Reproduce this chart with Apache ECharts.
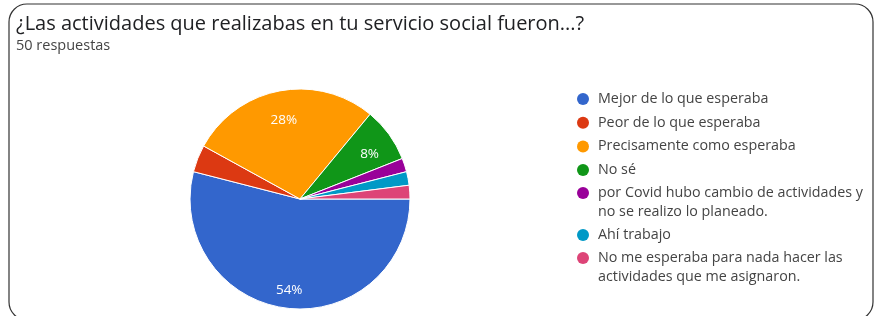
<!DOCTYPE html>
<html>
<head>
<meta charset="utf-8">
<script src="https://cdn.jsdelivr.net/npm/echarts@6/dist/echarts.min.js"></script>
<style>
html, body { margin: 0; padding: 0; background: #fff; }
#chart { width: 875px; height: 316px; }
</style>
</head>
<body>
<div id="chart"></div>
<script>
// respuestas por opcion (50 en total)
var categorias = [
	"Mejor de lo que esperaba",
	"Peor de lo que esperaba",
	"Precisamente como esperaba",
	"No sé",
	"por Covid hubo cambio de actividades y no se realizo lo planeado.",
	"Ahí trabajo",
	"No me esperaba para nada hacer las actividades que me asignaron."
];
var respuestas = [27, 2, 14, 4, 1, 1, 1];
var colores = ["#3366cc", "#dc3912", "#ff9900", "#109618", "#990099", "#0099c6", "#dd4477"];

var titulo = "¿Las actividades que realizabas en tu servicio social fueron...?";
var subtitulo = "50 respuestas";

var data = [];
for (var i = 0; i < categorias.length; i++) {
	data.push({ name: categorias[i], value: respuestas[i] });
}

var fontFamily = "'Open Sans', Arial, sans-serif";
var centro = [300, 199];
// circulo arriba de una caja alta, para que el icono quede con la primera linea
var iconoAlto = "path://M6,0A6,6,0,1,1,6,12A6,6,0,1,1,6,0Z M6,31L6,31";

var legendText = {
	fontFamily: fontFamily,
	fontSize: 14.3,
	color: "#444",
	lineHeight: 19,
	width: 275,
	overflow: "break",
	padding: [0, 0, 0, 4]
};

function makeLegend(nombres, top, dosLineas) {
	return {
		orient: "vertical",
		left: 577,
		top: top,
		padding: 0,
		icon: dosLineas ? iconoAlto : "circle",
		itemWidth: 12,
		itemHeight: dosLineas ? 31 : 12,
		itemGap: 4.7,
		itemStyle: { borderWidth: 0 },
		selectedMode: false,
		data: nombres,
		textStyle: legendText
	};
}

var myChart = echarts.init(document.getElementById("chart"));
var option = {
	color: colores,
	animation: false,
	title: {
		text: titulo,
		subtext: subtitulo,
		left: 11,
		top: 9,
		itemGap: 4,
		textStyle: { fontFamily: fontFamily, fontSize: 20, fontWeight: "normal", color: "#202124" },
		subtextStyle: { fontFamily: fontFamily, fontSize: 14.5, color: "#444" }
	},
	legend: [
		makeLegend(categorias.slice(0, 4), 89.5, false),
		makeLegend([categorias[4]], 183.5, true),
		makeLegend([categorias[5]], 225.5, false),
		makeLegend([categorias[6]], 248.5, true)
	],
	graphic: [{
		type: "rect",
		silent: true,
		shape: { x: 9, y: 4, width: 864, height: 316, r: 18 },
		style: { fill: "none", stroke: "#333", lineWidth: 1.2 }
	}],
	series: [{
		type: "pie",
		center: centro,
		radius: [0, 110],
		startAngle: 0,
		clockwise: true,
		data: data,
		label: { show: false },
		labelLine: { show: false },
		itemStyle: { borderColor: "#fff", borderWidth: 1 },
		emphasis: { disabled: true }
	}, {
		// anillo invisible, solo para colocar las etiquetas mas hacia fuera
		type: "pie",
		center: [centro[0], centro[1] + 6],
		radius: [56, 110],
		startAngle: 0,
		clockwise: true,
		silent: true,
		data: data,
		itemStyle: { color: "rgba(0,0,0,0)" },
		label: {
			position: "inside",
			color: "#fff",
			fontFamily: fontFamily,
			fontSize: 13.5,
			formatter: function(p) {
				return p.percent >= 5 ? Math.round(p.percent) + "%" : "";
			}
		},
		labelLine: { show: false },
		emphasis: { disabled: true }
	}]
};
myChart.setOption(option);
</script>
</body>
</html>
